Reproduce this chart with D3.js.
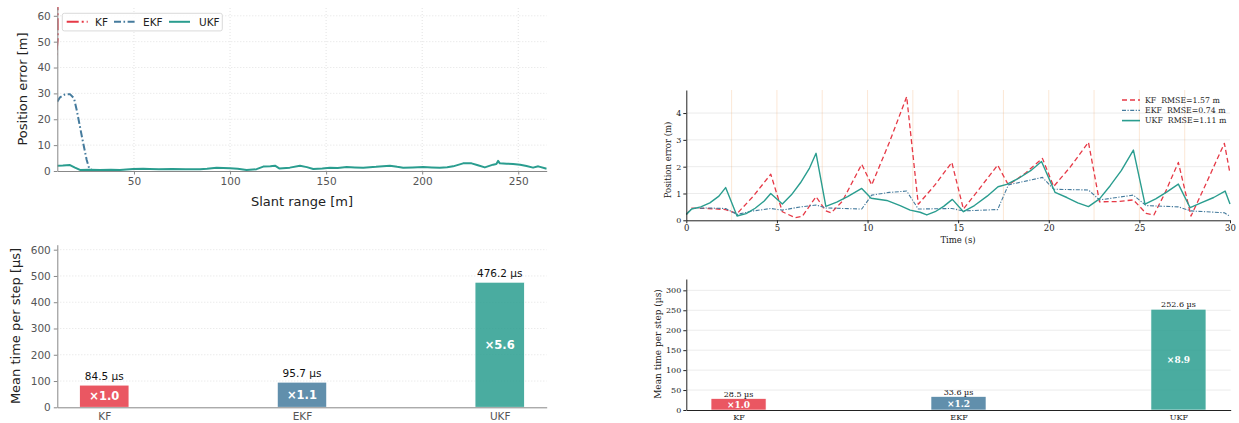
<!DOCTYPE html>
<html>
<head>
<meta charset="utf-8">
<script src="https://cdn.jsdelivr.net/npm/d3@7"></script>
<style>
  body { margin: 0; background: #fff; }
  svg { display: block; }
</style>
</head>
<body>
<svg id="fig" width="1239" height="423"></svg>
<script>
// ---------- data ----------
const filters = ["KF", "EKF", "UKF"];

// Position error vs slant range, [range m, error m]
const rangeKF = [[10.15, 90], [10.3, 51], [9.0, 40]];
const rangeEKF = [[10.1, 26.8], [11.5, 28.5], [14.1, 29.6], [16.7, 29.7], [18.8, 28.1], [20.2, 23.6],
  [21.9, 17.1], [23.6, 10.7], [25.4, 4.25], [26.7, 1.0], [28.0, 0.45]];
const rangeUKF = [[10.1, 2.05], [13.0, 2.1], [16.7, 2.3], [19.3, 1.3], [21.9, 0.4], [27, 0.45], [32.3, 0.4],
  [38, 0.5], [42.7, 0.4], [46, 0.6], [49.6, 0.8], [54.8, 0.9], [58, 0.8], [63, 0.7], [70, 0.75], [77, 0.65],
  [84.4, 0.7], [88, 0.9], [93, 1.3], [100, 1.1], [104, 0.9], [108.6, 0.4], [113.8, 0.7], [117.3, 1.7],
  [121, 1.8], [123.4, 2.05], [125.6, 1.0], [131.1, 1.3], [136.4, 2.05], [140, 1.5], [143.3, 0.77],
  [148, 1.0], [152, 1.3], [156, 1.2], [160.7, 1.55], [165, 1.4], [169.3, 1.3], [176, 1.6], [183.2, 2.05],
  [187, 1.6], [190.1, 1.3], [195, 1.4], [200.5, 1.55], [205, 1.4], [209.2, 1.3], [213, 1.45],
  [216.1, 1.8], [221.3, 2.95], [225.7, 2.95], [229, 2.2], [232.6, 1.4], [236.9, 2.45], [238.6, 2.7],
  [239.5, 3.9], [240.4, 2.95], [244, 2.85], [247.3, 2.7], [251, 2.4], [254.3, 1.9], [257.7, 1.3],
  [260.4, 1.8], [264.8, 0.9]];
const rangeTicks = [50, 100, 150, 200, 250];
const rangeErrTicks = [0, 10, 20, 30, 40, 50, 60];

// Mean computation time per step (µs), two runs
const timeA = [84.5, 95.7, 476.2];
const timeATicks = [0, 100, 200, 300, 400, 500, 600];
const timeB = [28.5, 33.6, 252.6];
const timeBTicks = [0, 50, 100, 150, 200, 250, 300];

// Position error vs time, [t s, error m]
const timeKF = [[0, 0.22], [0.3, 0.45], [1.2, 0.44], [2.17, 0.4], [2.8, 0.25], [3.7, 0.9], [4.66, 1.72],
  [5.3, 0.32], [6.0, 0.1], [6.4, 0.15], [7.16, 0.88], [7.7, 0.35], [8.0, 0.28], [8.6, 0.7], [9.68, 2.09],
  [10.23, 1.32], [11.2, 2.9], [12.16, 4.61], [12.8, 0.6], [13.7, 1.3], [14.65, 2.16], [15.29, 0.42],
  [16.2, 1.2], [17.18, 2.06], [17.77, 1.32], [18.7, 1.75], [19.65, 2.31], [20.27, 1.26], [21.2, 2.0],
  [22.19, 2.91], [22.8, 0.69], [23.8, 0.7], [24.67, 0.76], [25.37, 0.26], [25.8, 0.2], [26.4, 1.0],
  [27.15, 2.16], [27.85, 0.16], [28.7, 1.4], [29.69, 2.87], [30, 1.75]];
const timeEKF = [[0, 0.22], [0.3, 0.44], [1.2, 0.46], [2.17, 0.44], [2.8, 0.22], [3.7, 0.35], [4.66, 0.44],
  [5.3, 0.38], [6.3, 0.5], [7.16, 0.57], [7.7, 0.46], [9.68, 0.42], [10.23, 0.94], [11.2, 1.04],
  [12.16, 1.09], [12.8, 0.42], [14.65, 0.44], [15.29, 0.35], [17.18, 0.4], [17.77, 1.32], [19.65, 1.6],
  [20.27, 1.16], [22.19, 1.13], [22.8, 0.76], [24.67, 0.94], [25.37, 0.55], [27.15, 0.5], [27.85, 0.35],
  [29.69, 0.28], [30, 0.15]];
const timeUKF = [[0, 0.22], [0.3, 0.42], [0.8, 0.5], [1.3, 0.65], [1.8, 0.9], [2.17, 1.22], [2.8, 0.16],
  [3.3, 0.25], [3.8, 0.45], [4.3, 0.72], [4.66, 1.0], [5.3, 0.61], [5.8, 0.95], [6.3, 1.4], [6.8, 1.95],
  [7.16, 2.5], [7.7, 0.52], [8.3, 0.68], [8.9, 0.88], [9.68, 1.19], [10.2, 0.82], [11.06, 0.74],
  [11.8, 0.55], [12.35, 0.38], [12.9, 0.3], [13.27, 0.2], [13.73, 0.32], [14.2, 0.52], [14.68, 0.78],
  [15.29, 0.32], [15.9, 0.55], [16.6, 0.9], [17.2, 1.25], [17.68, 1.34], [18.3, 1.55], [19.0, 1.85],
  [19.6, 2.19], [20.35, 1.04], [21.0, 0.85], [21.6, 0.65], [22.19, 0.51], [22.8, 0.8], [23.4, 1.3],
  [24.0, 1.85], [24.67, 2.62], [25.31, 0.6], [25.9, 0.8], [26.5, 1.05], [27.15, 1.35], [27.8, 0.47],
  [28.4, 0.65], [29.1, 0.85], [29.73, 1.09], [30, 0.61]];
const rmse = [1.57, 0.74, 1.11];
const updateTimes = [2.5, 5, 7.5, 10, 12.5, 15, 17.5, 20, 22.5, 25, 27.5];
const tTicks = [0, 5, 10, 15, 20, 25, 30];
const tErrTicks = [0, 1, 2, 3, 4];

// ---------- styling ----------
const lineColor = { KF: "#e63946", EKF: "#457b9d", UKF: "#2a9d8f" };
const SANS = "DejaVu Sans, sans-serif";
const SERIF = "DejaVu Serif, serif";
const svg = d3.select("#fig");
const fmtRatio = (v, base) => "\u00d7" + (v / base).toFixed(1);

function styleAxis(g, color, textColor, font, size) {
  g.select(".domain").attr("stroke", color).attr("stroke-width", 1);
  g.selectAll(".tick line").attr("stroke", color);
  g.selectAll(".tick text").attr("fill", textColor).style("font-family", font).style("font-size", size + "px");
}

// ================= panel A: error vs slant range =================
{
  const x = d3.scaleLinear().domain([10.1, 264.8]).range([57.3, 546.7]);
  const y = d3.scaleLinear().domain([0, 63.4]).range([171, 7]);
  const g = svg.append("g");
  const clipId = "clipA";
  svg.append("clipPath").attr("id", clipId).append("rect")
    .attr("x", x.range()[0]).attr("y", y.range()[1])
    .attr("width", x.range()[1] - x.range()[0]).attr("height", y.range()[0] - y.range()[1]);

  // dotted grid
  g.append("g").selectAll("line").data(rangeTicks).join("line")
    .attr("x1", d => x(d)).attr("x2", d => x(d)).attr("y1", y.range()[0]).attr("y2", y.range()[1])
    .attr("stroke", "#dcdcdc").attr("stroke-width", 0.8).attr("stroke-dasharray", "1,2");
  g.append("g").selectAll("line").data(rangeErrTicks.filter(d => d > 0)).join("line")
    .attr("x1", x.range()[0]).attr("x2", x.range()[1]).attr("y1", d => y(d)).attr("y2", d => y(d))
    .attr("stroke", "#dcdcdc").attr("stroke-width", 0.8).attr("stroke-dasharray", "1,2");

  const line = d3.line().x(d => x(d[0])).y(d => y(d[1]));
  const series = [
    { name: "KF", data: rangeKF, dash: "12,3,2,3" },
    { name: "EKF", data: rangeEKF, dash: "7,2.5,1.6,2.5" },
    { name: "UKF", data: rangeUKF, dash: null }
  ];
  const lg = g.append("g").attr("clip-path", `url(#${clipId})`);
  series.forEach(s => {
    lg.append("path").datum(s.data).attr("d", line).attr("fill", "none")
      .attr("stroke", lineColor[s.name]).attr("stroke-width", 2)
      .attr("stroke-linejoin", "round")
      .attr("stroke-dasharray", s.dash);
  });

  const ax = g.append("g").attr("transform", `translate(0,${y.range()[0]})`)
    .call(d3.axisBottom(x).tickValues(rangeTicks).tickSize(3.5).tickSizeOuter(0).tickPadding(3));
  styleAxis(ax, "#888", "#555", SANS, 10.5);
  const ay = g.append("g").attr("transform", `translate(${x.range()[0]},0)`)
    .call(d3.axisLeft(y).tickValues(rangeErrTicks).tickSize(3.5).tickSizeOuter(0).tickPadding(3));
  styleAxis(ay, "#888", "#555", SANS, 10.5);

  g.append("text").attr("x", 302).attr("y", 206).attr("text-anchor", "middle")
    .style("font-family", SANS).style("font-size", "13px").attr("fill", "#222").text("Slant range [m]");
  g.append("text").attr("transform", "translate(27,89) rotate(-90)").attr("text-anchor", "middle")
    .style("font-family", SANS).style("font-size", "13px").attr("fill", "#222").text("Position error [m]");

  // legend
  const leg = g.append("g");
  leg.append("rect").attr("x", 62.3).attr("y", 13.3).attr("width", 160).attr("height", 17.6).attr("rx", 2)
    .attr("fill", "#fff").attr("fill-opacity", 0.85).attr("stroke", "#d0d0d0").attr("stroke-width", 0.8);
  const legX = [[66.7, 95], [114, 143], [169, 199]];
  series.forEach((s, i) => {
    leg.append("line").attr("x1", legX[i][0]).attr("x2", legX[i][0] + 21).attr("y1", 21.8).attr("y2", 21.8)
      .attr("stroke", lineColor[s.name]).attr("stroke-width", 2).attr("stroke-dasharray", s.dash);
    leg.append("text").attr("x", legX[i][1]).attr("y", 25.5)
      .style("font-family", SANS).style("font-size", "10.5px").attr("fill", "#222").text(s.name);
  });
}

// ================= panel B: timing bars (sans) =================
{
  const x = d3.scaleLinear().domain([-0.2375, 2.2375]).range([57.3, 546.7]);
  const y = d3.scaleLinear().domain([0, 619]).range([407.3, 244.7]);
  const g = svg.append("g");
  g.append("g").selectAll("line").data(timeATicks.filter(d => d > 0)).join("line")
    .attr("x1", x.range()[0]).attr("x2", x.range()[1]).attr("y1", d => y(d)).attr("y2", d => y(d))
    .attr("stroke", "#dcdcdc").attr("stroke-width", 0.8).attr("stroke-dasharray", "1,2");

  const bars = filters.map((f, i) => ({ f, i, v: timeA[i] }));
  g.append("g").selectAll("rect").data(bars).join("rect")
    .attr("x", d => x(d.i - 0.125)).attr("width", d => x(d.i + 0.125) - x(d.i - 0.125))
    .attr("y", d => y(d.v)).attr("height", d => y(0) - y(d.v))
    .attr("fill", d => lineColor[d.f]).attr("fill-opacity", 0.85)
    .attr("stroke", "#fff").attr("stroke-width", 0.8);
  g.append("g").selectAll("text").data(bars).join("text")
    .attr("x", d => x(d.i)).attr("y", d => y(d.v) - 5).attr("text-anchor", "middle")
    .style("font-family", SANS).style("font-size", "10.5px").attr("fill", "#111")
    .text(d => d.v.toFixed(1) + " \u00b5s");
  g.append("g").selectAll("text").data(bars).join("text")
    .attr("x", d => x(d.i)).attr("y", d => y(d.v / 2)).attr("dy", "0.36em").attr("text-anchor", "middle")
    .style("font-family", SANS).style("font-size", "11.5px").style("font-weight", "bold").attr("fill", "#fff")
    .text(d => fmtRatio(d.v, timeA[0]));

  const ax = g.append("g").attr("transform", `translate(0,${y.range()[0]})`)
    .call(d3.axisBottom(x).tickValues([0, 1, 2]).tickFormat(i => filters[i]).tickSize(0).tickSizeOuter(0).tickPadding(5));
  styleAxis(ax, "#888", "#555", SANS, 10.5);
  const ay = g.append("g").attr("transform", `translate(${x.range()[0]},0)`)
    .call(d3.axisLeft(y).tickValues(timeATicks).tickSize(3.5).tickSizeOuter(0).tickPadding(3));
  styleAxis(ay, "#888", "#555", SANS, 10.5);

  g.append("text").attr("transform", "translate(20,326) rotate(-90)").attr("text-anchor", "middle")
    .style("font-family", SANS).style("font-size", "13px").attr("fill", "#222").text("Mean time per step [\u00b5s]");
}

// ================= panel C: error vs time (serif) =================
{
  const x = d3.scaleLinear().domain([0, 30]).range([686.3, 1230]);
  const y = d3.scaleLinear().domain([0, 4.86]).range([220.3, 90]);
  const g = svg.append("g");

  g.append("g").selectAll("line").data(tErrTicks.filter(d => d > 0)).join("line")
    .attr("x1", x.range()[0]).attr("x2", x.range()[1]).attr("y1", d => y(d)).attr("y2", d => y(d))
    .attr("stroke", "#ececec").attr("stroke-width", 1);
  g.append("g").selectAll("line").data(updateTimes).join("line")
    .attr("x1", d => x(d)).attr("x2", d => x(d)).attr("y1", y.range()[0]).attr("y2", y.range()[1])
    .attr("stroke", "#f4a261").attr("stroke-opacity", 0.25).attr("stroke-width", 1);

  const line = d3.line().x(d => x(d[0])).y(d => y(d[1]));
  const series = [
    { name: "KF", data: timeKF, dash: "5,3", w: 1.3 },
    { name: "EKF", data: timeEKF, dash: "4,1.5,1.2,1.5", w: 1.1 },
    { name: "UKF", data: timeUKF, dash: null, w: 1.4 }
  ];
  series.forEach(s => {
    g.append("path").datum(s.data).attr("d", line).attr("fill", "none")
      .attr("stroke", lineColor[s.name]).attr("stroke-width", s.w)
      .attr("stroke-linejoin", "round").attr("stroke-dasharray", s.dash);
  });

  const ax = g.append("g").attr("transform", `translate(0,${y.range()[0]})`)
    .call(d3.axisBottom(x).tickValues(tTicks).tickFormat(d3.format("d")).tickSize(3).tickSizeOuter(0).tickPadding(2));
  styleAxis(ax, "#222", "#222", SERIF, 8.5);
  const ay = g.append("g").attr("transform", `translate(${x.range()[0]},0)`)
    .call(d3.axisLeft(y).tickValues(tErrTicks).tickFormat(d3.format("d")).tickSize(3).tickSizeOuter(0).tickPadding(2));
  styleAxis(ay, "#222", "#222", SERIF, 8);

  g.append("text").attr("x", 958).attr("y", 243).attr("text-anchor", "middle")
    .style("font-family", SERIF).style("font-size", "8.5px").attr("fill", "#222").text("Time (s)");
  g.append("text").attr("transform", "translate(671,160) rotate(-90)").attr("text-anchor", "middle")
    .style("font-family", SERIF).style("font-size", "8.5px").attr("fill", "#222").text("Position error (m)");

  const leg = g.append("g");
  series.forEach((s, i) => {
    const ly = 100 + i * 10.3;
    leg.append("line").attr("x1", 1122).attr("x2", 1140).attr("y1", ly).attr("y2", ly)
      .attr("stroke", lineColor[s.name]).attr("stroke-width", s.name === "UKF" ? 1.6 : 1.3)
      .attr("stroke-dasharray", s.dash);
    leg.append("text").attr("x", 1145).attr("y", ly + 2.7).attr("xml:space", "preserve")
      .style("font-family", SERIF).style("font-size", "7.8px").attr("fill", "#222")
      .text(`${s.name}  RMSE=${rmse[i].toFixed(2)} m`);
  });
}

// ================= panel D: timing bars (serif) =================
{
  const x = d3.scaleLinear().domain([-0.2375, 2.2375]).range([686.3, 1230.7]);
  const y = d3.scaleLinear().domain([0, 328.4]).range([410, 279]);
  const g = svg.append("g");
  g.append("g").selectAll("line").data(timeBTicks.filter(d => d > 0)).join("line")
    .attr("x1", x.range()[0]).attr("x2", x.range()[1]).attr("y1", d => y(d)).attr("y2", d => y(d))
    .attr("stroke", "#ececec").attr("stroke-width", 1);

  const bars = filters.map((f, i) => ({ f, i, v: timeB[i] }));
  g.append("g").selectAll("rect").data(bars).join("rect")
    .attr("x", d => x(d.i - 0.125)).attr("width", d => x(d.i + 0.125) - x(d.i - 0.125))
    .attr("y", d => y(d.v)).attr("height", d => y(0) - y(d.v))
    .attr("fill", d => lineColor[d.f]).attr("fill-opacity", 0.85)
    .attr("stroke", "#fff").attr("stroke-width", 0.6);
  g.append("g").selectAll("text").data(bars).join("text")
    .attr("x", d => x(d.i)).attr("y", d => y(d.v) - 1.8).attr("text-anchor", "middle")
    .style("font-family", SERIF).style("font-size", "8px").attr("fill", "#111")
    .text(d => d.v.toFixed(1) + " \u00b5s");
  g.append("g").selectAll("text").data(bars).join("text")
    .attr("x", d => x(d.i)).attr("y", d => y(d.v / 2)).attr("dy", "0.36em").attr("text-anchor", "middle")
    .style("font-family", SERIF).style("font-size", "9px").style("font-weight", "bold").attr("fill", "#fff")
    .text(d => fmtRatio(d.v, timeB[0]));

  const ax = g.append("g").attr("transform", `translate(0,${y.range()[0]})`)
    .call(d3.axisBottom(x).tickValues([0, 1, 2]).tickFormat(i => filters[i]).tickSize(0).tickSizeOuter(0).tickPadding(4));
  styleAxis(ax, "#222", "#222", SERIF, 8);
  const ay = g.append("g").attr("transform", `translate(${x.range()[0]},0)`)
    .call(d3.axisLeft(y).tickValues(timeBTicks).tickSize(3).tickSizeOuter(0).tickPadding(2));
  styleAxis(ay, "#222", "#222", SERIF, 8);

  g.append("text").attr("transform", "translate(661,344) rotate(-90)").attr("text-anchor", "middle")
    .style("font-family", SERIF).style("font-size", "9px").attr("fill", "#222").text("Mean time per step (\u00b5s)");
}
</script>
</body>
</html>
